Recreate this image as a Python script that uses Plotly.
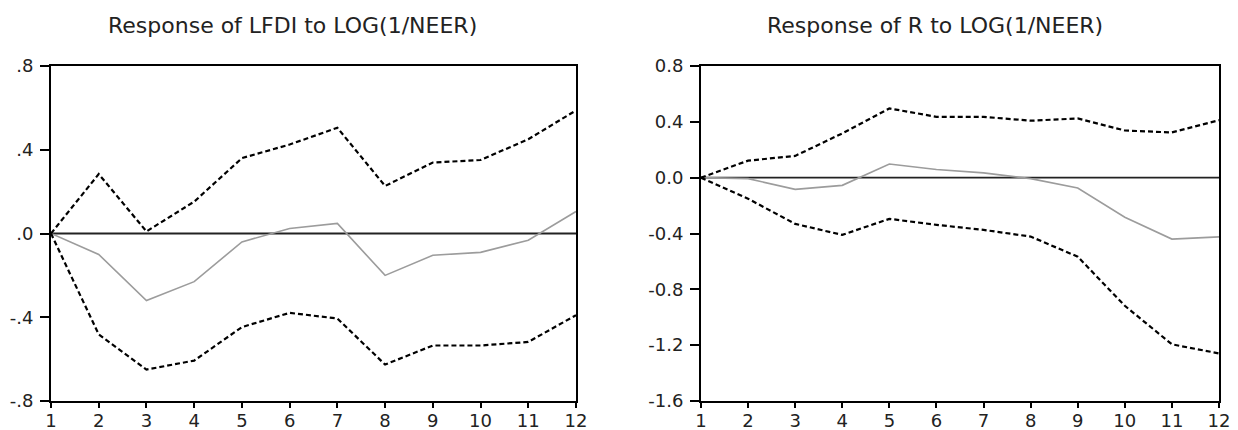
import plotly.graph_objects as go

periods = list(range(1, 13))

# Response of LFDI to LOG(1/NEER)
lfdi_resp = [0.0, -0.10, -0.32, -0.23, -0.04, 0.024, 0.048, -0.20, -0.104, -0.09, -0.032, 0.105]
lfdi_upper = [0.0, 0.284, 0.01, 0.152, 0.36, 0.425, 0.505, 0.227, 0.339, 0.351, 0.45, 0.588]
lfdi_lower = [0.0, -0.482, -0.65, -0.607, -0.447, -0.379, -0.406, -0.626, -0.535, -0.535, -0.518, -0.39]

# Response of R to LOG(1/NEER)
r_resp = [0.0, -0.007, -0.084, -0.055, 0.098, 0.058, 0.034, -0.007, -0.074, -0.283, -0.44, -0.424]
r_upper = [0.0, 0.122, 0.156, 0.317, 0.496, 0.436, 0.436, 0.408, 0.424, 0.338, 0.324, 0.412]
r_lower = [0.0, -0.151, -0.331, -0.41, -0.295, -0.338, -0.374, -0.422, -0.566, -0.918, -1.194, -1.259]

left_ticks = [0.8, 0.4, 0.0, -0.4, -0.8]
left_ticktext = [".8", ".4", ".0", "-.4", "-.8"]
right_ticks = [0.8, 0.4, 0.0, -0.4, -0.8, -1.2, -1.6]
right_ticktext = ["0.8", "0.4", "0.0", "-0.4", "-0.8", "-1.2", "-1.6"]

titles = ["Response of LFDI to LOG(1/NEER)", "Response of R to LOG(1/NEER)"]

FONT = "DejaVu Sans"
fig = go.Figure()

band_line = dict(color="black", width=2.2, dash="5px,3px")
resp_line = dict(color="#9c9c9c", width=1.6)

for i, (resp, up, lo) in enumerate([(lfdi_resp, lfdi_upper, lfdi_lower),
                                     (r_resp, r_upper, r_lower)]):
    xa = "x" if i == 0 else "x2"
    ya = "y" if i == 0 else "y2"
    fig.add_trace(go.Scatter(x=periods, y=[0] * len(periods), mode="lines",
                             line=dict(color="#222", width=1.8), xaxis=xa, yaxis=ya,
                             showlegend=False, hoverinfo="skip"))
    fig.add_trace(go.Scatter(x=periods, y=resp, mode="lines", line=resp_line,
                             xaxis=xa, yaxis=ya, showlegend=False))
    fig.add_trace(go.Scatter(x=periods, y=up, mode="lines", line=band_line,
                             xaxis=xa, yaxis=ya, showlegend=False))
    fig.add_trace(go.Scatter(x=periods, y=lo, mode="lines", line=band_line,
                             xaxis=xa, yaxis=ya, showlegend=False))

OFF = 8  # default page body margin
W, H = 1238 - OFF, 430 - OFF
def px_x(p):
    return (p - OFF) / W
def px_y(p):
    return 1 - (p - OFF) / H

axis_common = dict(showgrid=False, zeroline=False, showline=True, linecolor="black",
                   linewidth=2, mirror=True, ticks="outside", tickwidth=2,
                   automargin=False, tickcolor="black",
                   tickfont=dict(family=FONT, size=18, color="#222"))
x_common = dict(ticklen=5, ticklabelstandoff=-3, **axis_common)
y_common = dict(ticklen=9, ticklabelstandoff=3, **axis_common)

fig.update_layout(
    width=W, height=H,
    margin=dict(l=0, r=0, t=0, b=0, autoexpand=False),
    paper_bgcolor="white", plot_bgcolor="white",
    xaxis=dict(domain=[px_x(51), px_x(576)], range=[1, 12], tickvals=periods,
               anchor="y", **x_common),
    yaxis=dict(domain=[px_y(401), px_y(66)], range=[-0.8, 0.8], tickvals=left_ticks,
               ticktext=left_ticktext, anchor="x", **y_common),
    xaxis2=dict(domain=[px_x(701), px_x(1219)], range=[1, 12], tickvals=periods,
                anchor="y2", **x_common),
    yaxis2=dict(domain=[px_y(401), px_y(66)], range=[-1.6, 0.8], tickvals=right_ticks,
                ticktext=right_ticktext, anchor="x2", **y_common),
    annotations=[
        dict(text=titles[0], x=px_x(292), y=px_y(25), xref="paper", yref="paper",
             xanchor="center", yanchor="middle",
             showarrow=False, font=dict(family=FONT, size=22, color="#222")),
        dict(text=titles[1], x=px_x(935), y=px_y(25), xref="paper", yref="paper",
             xanchor="center", yanchor="middle",
             showarrow=False, font=dict(family=FONT, size=22, color="#222")),
    ],
)

fig.write_html("out.html")
